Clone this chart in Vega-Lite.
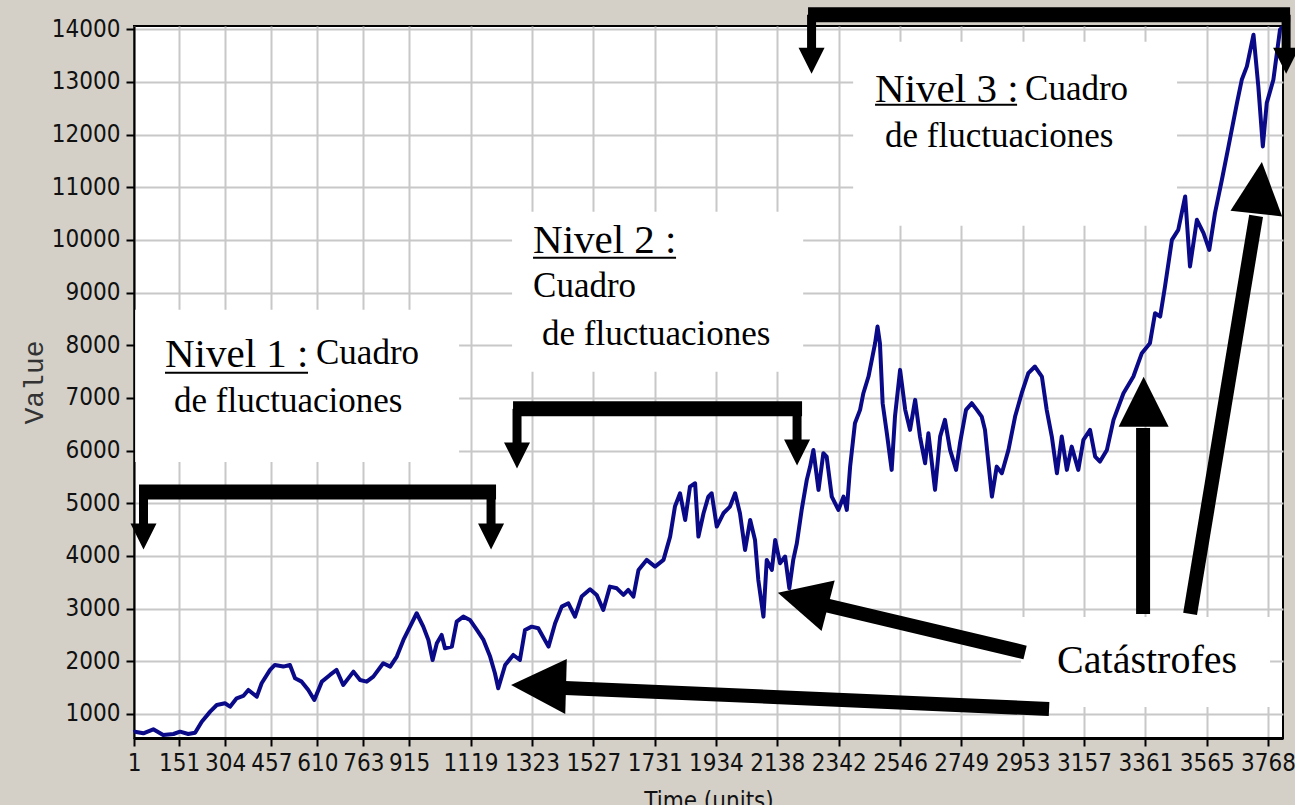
{
  "$schema": "https://vega.github.io/schema/vega-lite/v6.json",
  "width": 1149,
  "height": 712,
  "autosize": {"type": "none"},
  "padding": {"left": 134, "top": 26, "right": 12, "bottom": 67},
  "background": "#d4d0c8",
  "view": {"fill": "white", "stroke": "black", "strokeWidth": 2},
  "config": {
    "axis": {
      "labelFont": "DejaVu Sans Condensed, Liberation Sans",
      "labelFontSize": 24,
      "labelColor": "#111111",
      "tickColor": "black",
      "tickWidth": 2,
      "tickSize": 8,
      "domainColor": "black",
      "domainWidth": 2,
      "gridColor": "#c8c8c8",
      "gridWidth": 2,
      "labelPadding": 5,
      "labelOverlap": false,
      "labelFlush": false,
      "format": "d"
    }
  },
  "datasets": {
    "series": [
      {"t":1,"v":650},{"t":4,"v":664},{"t":32,"v":633},{"t":65,"v":709},{"t":98,"v":600},{"t":132,"v":620},{"t":154,"v":664},{"t":181,"v":620},{"t":204,"v":645},{"t":226,"v":854},{"t":254,"v":1044},{"t":276,"v":1171},{"t":303,"v":1203},{"t":320,"v":1139},{"t":342,"v":1298},{"t":364,"v":1342},{"t":381,"v":1456},{"t":409,"v":1329},{"t":425,"v":1583},{"t":453,"v":1836},{"t":469,"v":1931},{"t":497,"v":1900},{"t":519,"v":1931},{"t":536,"v":1678},{"t":558,"v":1614},{"t":580,"v":1456},{"t":600,"v":1266},{"t":625,"v":1614},{"t":652,"v":1741},{"t":674,"v":1836},{"t":696,"v":1551},{"t":730,"v":1804},{"t":752,"v":1646},{"t":774,"v":1614},{"t":796,"v":1709},{"t":829,"v":1962},{"t":852,"v":1899},{"t":874,"v":2089},{"t":896,"v":2405},{"t":918,"v":2658},{"t":940,"v":2912},{"t":962,"v":2658},{"t":979,"v":2405},{"t":993,"v":2025},{"t":1007,"v":2342},{"t":1023,"v":2500},{"t":1034,"v":2248},{"t":1057,"v":2279},{"t":1073,"v":2753},{"t":1095,"v":2848},{"t":1117,"v":2785},{"t":1140,"v":2595},{"t":1162,"v":2405},{"t":1184,"v":2089},{"t":1200,"v":1773},{"t":1211,"v":1488},{"t":1234,"v":1930},{"t":1261,"v":2120},{"t":1283,"v":2025},{"t":1300,"v":2595},{"t":1322,"v":2658},{"t":1344,"v":2627},{"t":1378,"v":2279},{"t":1400,"v":2722},{"t":1422,"v":3038},{"t":1444,"v":3101},{"t":1466,"v":2848},{"t":1488,"v":3228},{"t":1516,"v":3367},{"t":1538,"v":3260},{"t":1560,"v":2975},{"t":1582,"v":3418},{"t":1605,"v":3386},{"t":1627,"v":3260},{"t":1643,"v":3355},{"t":1660,"v":3228},{"t":1677,"v":3735},{"t":1704,"v":3925},{"t":1732,"v":3798},{"t":1760,"v":3925},{"t":1782,"v":4367},{"t":1798,"v":4937},{"t":1815,"v":5190},{"t":1832,"v":4684},{"t":1848,"v":5316},{"t":1865,"v":5380},{"t":1876,"v":4367},{"t":1893,"v":4810},{"t":1909,"v":5126},{"t":1920,"v":5190},{"t":1937,"v":4557},{"t":1959,"v":4810},{"t":1981,"v":4937},{"t":1998,"v":5190},{"t":2014,"v":4810},{"t":2031,"v":4114},{"t":2048,"v":4684},{"t":2064,"v":4304},{"t":2075,"v":3545},{"t":2092,"v":2848},{"t":2103,"v":3925},{"t":2120,"v":3735},{"t":2131,"v":4304},{"t":2147,"v":3862},{"t":2164,"v":3988},{"t":2178,"v":3386},{"t":2191,"v":3925},{"t":2203,"v":4241},{"t":2219,"v":4874},{"t":2236,"v":5444},{"t":2247,"v":5696},{"t":2258,"v":6013},{"t":2275,"v":5254},{"t":2291,"v":5951},{"t":2302,"v":5886},{"t":2319,"v":5126},{"t":2341,"v":4874},{"t":2358,"v":5126},{"t":2369,"v":4874},{"t":2380,"v":5696},{"t":2396,"v":6520},{"t":2413,"v":6773},{"t":2424,"v":7089},{"t":2441,"v":7406},{"t":2452,"v":7722},{"t":2463,"v":8039},{"t":2471,"v":8355},{"t":2479,"v":8039},{"t":2488,"v":6900},{"t":2502,"v":6330},{"t":2518,"v":5634},{"t":2529,"v":6646},{"t":2546,"v":7532},{"t":2563,"v":6773},{"t":2579,"v":6393},{"t":2596,"v":6963},{"t":2612,"v":6266},{"t":2629,"v":5760},{"t":2640,"v":6330},{"t":2662,"v":5254},{"t":2679,"v":6266},{"t":2695,"v":6583},{"t":2712,"v":6013},{"t":2732,"v":5634},{"t":2745,"v":6140},{"t":2765,"v":6773},{"t":2784,"v":6900},{"t":2801,"v":6773},{"t":2817,"v":6646},{"t":2828,"v":6393},{"t":2851,"v":5126},{"t":2867,"v":5696},{"t":2884,"v":5570},{"t":2906,"v":6013},{"t":2928,"v":6646},{"t":2950,"v":7089},{"t":2972,"v":7469},{"t":2994,"v":7596},{"t":3017,"v":7406},{"t":3033,"v":6773},{"t":3050,"v":6266},{"t":3067,"v":5570},{"t":3083,"v":6266},{"t":3100,"v":5634},{"t":3116,"v":6076},{"t":3138,"v":5634},{"t":3155,"v":6203},{"t":3177,"v":6393},{"t":3194,"v":5886},{"t":3210,"v":5791},{"t":3233,"v":6013},{"t":3255,"v":6583},{"t":3288,"v":7089},{"t":3321,"v":7406},{"t":3349,"v":7849},{"t":3376,"v":8039},{"t":3393,"v":8609},{"t":3410,"v":8545},{"t":3426,"v":9115},{"t":3449,"v":10001},{"t":3470,"v":10191},{"t":3493,"v":10824},{"t":3509,"v":9495},{"t":3532,"v":10381},{"t":3554,"v":10128},{"t":3573,"v":9811},{"t":3592,"v":10508},{"t":3615,"v":11141},{"t":3637,"v":11774},{"t":3665,"v":12597},{"t":3681,"v":13039},{"t":3698,"v":13293},{"t":3720,"v":13894},{"t":3736,"v":12913},{"t":3751,"v":11774},{"t":3764,"v":12597},{"t":3786,"v":13039},{"t":3808,"v":13989},{"t":3818,"v":14050}
    ],
    "boxes": [
      {"t":5,"t2":1081,"v":8672,"v2":5785},
      {"t":1257,"t2":2224,"v":10533,"v2":7495},
      {"t":2390,"t2":3466,"v":13761,"v2":10267},
      {"t":2948,"t2":3775,"v":2842,"v2":1133}
    ],
    "segments": [
      {"kind":"bar","t":17.6,"t2":1203.7,"v":5216,"v2":5216},
      {"kind":"bar","t":1260.2,"t2":2220.3,"v":6792,"v2":6792},
      {"kind":"bar","t":2240.2,"t2":3841.6,"v":14274,"v2":14274},
      {"kind":"stem","t":32.6,"t2":32.6,"v":5216,"v2":4589},
      {"kind":"stem","t":1187.1,"t2":1187.1,"v":5216,"v2":4589},
      {"kind":"stem","t":1273.4,"t2":1273.4,"v":6792,"v2":6108},
      {"kind":"stem","t":2203.7,"t2":2203.7,"v":6792,"v2":6165},
      {"kind":"stem","t":2251.9,"t2":2251.9,"v":14274,"v2":13609},
      {"kind":"stem","t":3828.3,"t2":3828.3,"v":14274,"v2":13609},
      {"kind":"shaft","t":1432.9,"t2":3040.9,"v":1494,"v2":1095},
      {"kind":"shaft","t":2303.4,"t2":2961.2,"v":3060,"v2":2168},
      {"kind":"shaft","t":3353.2,"t2":3353.2,"v":6431,"v2":2899},
      {"kind":"shaft","t":3728.6,"t2":3509.4,"v":10457,"v2":2899},
      {"kind":"underline","t":104,"t2":579.1,"v":7476,"v2":7476},
      {"kind":"underline","t":1326.6,"t2":1801.7,"v":9659,"v2":9659},
      {"kind":"underline","t":2462.8,"t2":2934.6,"v":12565,"v2":12565}
    ],
    "heads": [
      {"arrow":"bracket","t":32.6,"v":4371},
      {"arrow":"bracket","t":1187.1,"v":4371},
      {"arrow":"bracket","t":1273.4,"v":5909},
      {"arrow":"bracket","t":2203.7,"v":5966},
      {"arrow":"bracket","t":2251.9,"v":13400},
      {"arrow":"bracket","t":3828.3,"v":13400},
      {"arrow":"A","t":1344.9,"v":1536},
      {"arrow":"B","t":2223.3,"v":3179},
      {"arrow":"C","t":3354.9,"v":6925},
      {"arrow":"D","t":3738.6,"v":10989}
    ],
    "labels": [
      {"kind":"nivel","text":"Nivel 1 :","t":104,"v":7590},
      {"kind":"body","text":"Cuadro","t":605.7,"v":7647},
      {"kind":"body","text":"de fluctuaciones","t":133.9,"v":6735},
      {"kind":"nivel","text":"Nivel 2 :","t":1326.6,"v":9754},
      {"kind":"body","text":"Cuadro","t":1326.6,"v":8919},
      {"kind":"body","text":"de fluctuaciones","t":1356.5,"v":8007},
      {"kind":"nivel","text":"Nivel 3 :","t":2462.8,"v":12622},
      {"kind":"body","text":"Cuadro","t":2961.2,"v":12660},
      {"kind":"body","text":"de fluctuaciones","t":2496.1,"v":11767},
      {"kind":"cat","text":"Catástrofes","t":3067.5,"v":1779}
    ]
  },
  "encoding": {
    "x": {
      "field": "t",
      "type": "quantitative",
      "scale": {"domain": [1, 3818], "nice": false, "zero": false},
      "axis": {
        "values": [1,151,304,457,610,763,915,1119,1323,1527,1731,1934,2138,2342,2546,2749,2953,3157,3361,3565,3768],
        "title": "Time (units)",
        "titleFont": "DejaVu Sans Condensed, Liberation Sans",
        "titleFontSize": 24,
        "titleFontWeight": "normal",
        "titleColor": "#111111",
        "titlePadding": 14,
        "domainWidth": 3
      }
    },
    "y": {
      "field": "v",
      "type": "quantitative",
      "scale": {"domain": [544, 14060], "nice": false, "zero": false},
      "axis": {
        "values": [1000,2000,3000,4000,5000,6000,7000,8000,9000,10000,11000,12000,13000,14000],
        "title": "Value",
        "titleFont": "Liberation Mono",
        "titleFontSize": 28,
        "titleFontWeight": "normal",
        "titleColor": "#333333",
        "titlePadding": 3,
        "labelPadding": 6
      }
    }
  },
  "layer": [
    {
      "data": {"name": "boxes"},
      "mark": {"type": "rect", "fill": "white", "strokeWidth": 0},
      "encoding": {"x2": {"field": "t2"}, "y2": {"field": "v2"}}
    },
    {
      "data": {"name": "series"},
      "mark": {"type": "line", "color": "#0a0a88", "strokeWidth": 4, "strokeJoin": "round"}
    },
    {
      "data": {"name": "segments"},
      "transform": [{"filter": "datum.kind === 'bar'"}],
      "mark": {"type": "rule", "color": "black", "strokeWidth": 15, "strokeCap": "butt"},
      "encoding": {"x2": {"field": "t2"}, "y2": {"field": "v2"}}
    },
    {
      "data": {"name": "segments"},
      "transform": [{"filter": "datum.kind === 'stem'"}],
      "mark": {"type": "rule", "color": "black", "strokeWidth": 9, "strokeCap": "butt"},
      "encoding": {"x2": {"field": "t2"}, "y2": {"field": "v2"}}
    },
    {
      "data": {"name": "segments"},
      "transform": [{"filter": "datum.kind === 'shaft'"}],
      "mark": {"type": "rule", "color": "black", "strokeWidth": 14, "strokeCap": "butt"},
      "encoding": {"x2": {"field": "t2"}, "y2": {"field": "v2"}}
    },
    {
      "data": {"name": "segments"},
      "transform": [{"filter": "datum.kind === 'underline'"}],
      "mark": {"type": "rule", "color": "black", "strokeWidth": 2, "strokeCap": "butt"},
      "encoding": {"x2": {"field": "t2"}, "y2": {"field": "v2"}}
    },
    {
      "data": {"name": "heads"},
      "transform": [{"filter": "datum.arrow === 'bracket'"}],
      "mark": {"type": "point", "shape": "M0,-1L1,1L-1,1Z", "filled": true, "color": "black", "opacity": 1, "size": 676, "angle": 180, "strokeWidth": 0}
    },
    {
      "data": {"name": "heads"},
      "transform": [{"filter": "datum.arrow === 'A'"}],
      "mark": {"type": "point", "shape": "M0,-1L1,1L-1,1Z", "filled": true, "color": "black", "opacity": 1, "size": 3025, "angle": 271.6, "strokeWidth": 0}
    },
    {
      "data": {"name": "heads"},
      "transform": [{"filter": "datum.arrow === 'B'"}],
      "mark": {"type": "point", "shape": "M0,-1L1,1L-1,1Z", "filled": true, "color": "black", "opacity": 1, "size": 2704, "angle": 284.6, "strokeWidth": 0}
    },
    {
      "data": {"name": "heads"},
      "transform": [{"filter": "datum.arrow === 'C'"}],
      "mark": {"type": "point", "shape": "M0,-1L1,1L-1,1Z", "filled": true, "color": "black", "opacity": 1, "size": 2500, "angle": 0, "strokeWidth": 0}
    },
    {
      "data": {"name": "heads"},
      "transform": [{"filter": "datum.arrow === 'D'"}],
      "mark": {"type": "point", "shape": "M0,-1L1,1L-1,1Z", "filled": true, "color": "black", "opacity": 1, "size": 2704, "angle": 6.1, "strokeWidth": 0}
    },
    {
      "data": {"name": "labels"},
      "transform": [{"filter": "datum.kind === 'nivel'"}],
      "mark": {"type": "text", "font": "Liberation Serif", "fontSize": 41, "align": "left", "baseline": "alphabetic", "color": "black"},
      "encoding": {"text": {"field": "text"}}
    },
    {
      "data": {"name": "labels"},
      "transform": [{"filter": "datum.kind === 'body'"}],
      "mark": {"type": "text", "font": "Liberation Serif", "fontSize": 35, "align": "left", "baseline": "alphabetic", "color": "black"},
      "encoding": {"text": {"field": "text"}}
    },
    {
      "data": {"name": "labels"},
      "transform": [{"filter": "datum.kind === 'cat'"}],
      "mark": {"type": "text", "font": "Liberation Serif", "fontSize": 40, "align": "left", "baseline": "alphabetic", "color": "black"},
      "encoding": {"text": {"field": "text"}}
    }
  ]
}
